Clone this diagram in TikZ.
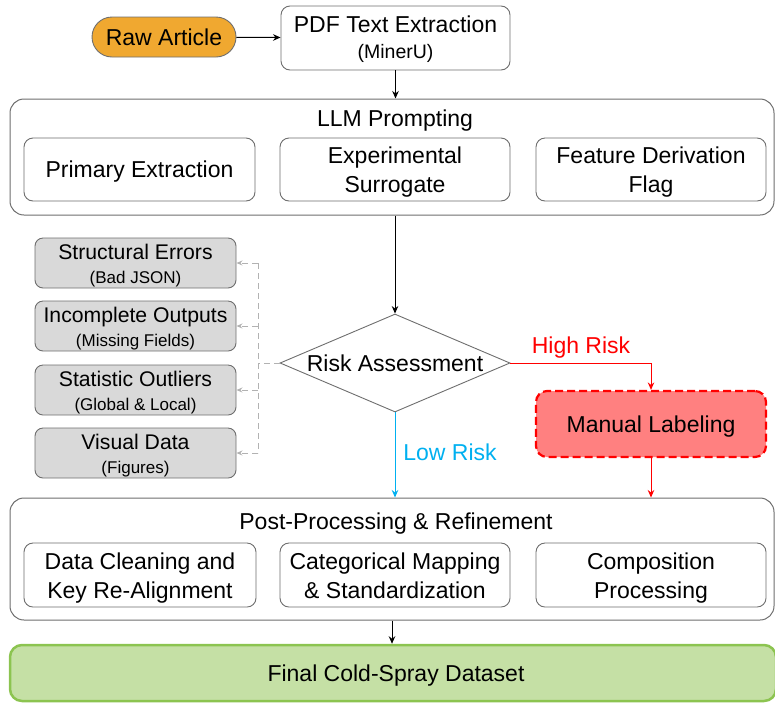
\documentclass[tikz,border=0pt]{standalone}
\usepackage{fontspec}
\setmainfont{Liberation Sans}
\usetikzlibrary{shapes.geometric,arrows.meta}
\definecolor{orangefill}{RGB}{240,168,48}
\definecolor{grayfill}{RGB}{217,217,217}
\definecolor{manualfill}{RGB}{255,128,128}
\definecolor{lowblue}{RGB}{0,176,240}
\definecolor{greenfill}{RGB}{197,224,165}
\definecolor{greendraw}{RGB}{140,196,80}
\definecolor{boxdraw}{RGB}{110,110,110}
\newcommand{\smalltxt}{\fontsize{17}{24}\selectfont}
\begin{document}
\begin{tikzpicture}[x=1pt,y=-1pt,
  every node/.style={inner sep=0pt, align=center},
  bigfont/.style={font=\fontsize{23}{29}\selectfont},
  oneline/.style={text depth=0pt},
  twoline/.style={text height=46.3pt, text depth=0pt},
  box/.style={draw=boxdraw, fill=white, rounded corners=9pt, line width=0.9pt, bigfont},
  outerbox/.style={draw=boxdraw, fill=white, rounded corners=14pt, line width=1pt, minimum width=764pt},
  gbox/.style={draw=boxdraw, fill=grayfill, rounded corners=8pt, line width=0.9pt, minimum width=201pt, minimum height=50pt, font=\fontsize{21.2}{24}\selectfont, text height=44pt},
  arr/.style={-{Stealth[length=7.5pt,width=6.5pt]}, line width=1pt},
  gline/.style={draw=gray!60, line width=1pt, dash pattern=on 6pt off 4pt},
  garr/.style={gline, -{Stealth[length=6pt,width=5pt]}}
]
\useasboundingbox (0,0) rectangle (775,702);

% top
\node[box, oneline, fill=orangefill, rounded corners=20pt, minimum width=144pt, minimum height=40pt] (raw) at (164,37) {Raw Article};
\node[box, text height=45.5pt, minimum width=229pt, minimum height=64pt] (pdf) at (395.5,38) {PDF Text Extraction\\[-3pt]{\fontsize{19.5}{20}\selectfont (MinerU)}};
\draw[arr] (raw) -- (pdf);

% LLM prompting
\node[outerbox, minimum height=116pt] (llm) at (392,157) {};
\node[bigfont, oneline] (llmtitle) at (395,118) {LLM Prompting};
\node[box, oneline, minimum width=231pt, minimum height=63pt] (primary) at (139.5,169.5) {Primary Extraction};
\node[box, twoline, minimum width=230pt, minimum height=63pt] (surrogate) at (395,169.5) {Experimental\\Surrogate};
\node[box, twoline, minimum width=230pt, minimum height=63pt] (feature) at (651,169.5) {Feature Derivation\\Flag};
\draw[arr] (pdf.south) -- (pdf.south |- llm.north);

% risk assessment
\node[draw=boxdraw, fill=white, diamond, shape aspect=2.35, line width=0.9pt, minimum width=230pt, minimum height=98pt, bigfont, oneline] (risk) at (395,363) {Risk Assessment};
\draw[arr] (risk.north |- llm.south) -- (risk.north);

% gray boxes
\node[gbox] (struct) at (135.5,263) {Structural Errors\\{\smalltxt (Bad JSON)}};
\node[gbox] (incomp) at (135.5,326) {Incomplete Outputs\\{\smalltxt (Missing Fields)}};
\node[gbox] (stat) at (135.5,390) {Statistic Outliers\\{\smalltxt (Global \& Local)}};
\node[gbox] (visual) at (135.5,453) {Visual Data\\{\smalltxt (Figures)}};
\coordinate (bus) at (258,363);
\draw[gline] (risk.west) -- (bus);
\draw[gline] (bus |- struct.east) -- (bus |- visual.east);
\draw[garr] (bus |- struct.east) -- (struct.east);
\draw[garr] (bus |- incomp.east) -- (incomp.east);
\draw[garr] (bus |- stat.east) -- (stat.east);
\draw[garr] (bus |- visual.east) -- (visual.east);

% manual labeling
\node[draw=red, fill=manualfill, dash pattern=on 8pt off 4pt, line width=2.2pt, rounded corners=11pt, minimum width=230pt, minimum height=66pt, bigfont, oneline] (manual) at (651,424) {Manual Labeling};
\draw[arr, red] (risk.east) -| (manual.north);
\node[bigfont, oneline, text=red] (highlbl) at (581,345) {High Risk};

% post processing
\node[outerbox, minimum height=122pt] (post) at (392,559) {};
\node[bigfont, oneline] (posttitle) at (396,521) {Post-Processing \& Refinement};
\node[box, twoline, minimum width=232pt, minimum height=64pt] (clean) at (140,575) {Data Cleaning and\\Key Re-Alignment};
\node[box, twoline, minimum width=230pt, minimum height=64pt] (categ) at (395,575) {Categorical Mapping\\\& Standardization};
\node[box, twoline, minimum width=230pt, minimum height=64pt] (compo) at (651,575) {Composition\\Processing};

\draw[arr, lowblue] (risk.south) -- (risk.south |- post.north);
\node[bigfont, oneline, text=lowblue] (lowlbl) at (450,452) {Low Risk};
\draw[arr, red] (manual.south) -- (manual.south |- post.north);

% final
\node[draw=greendraw, fill=greenfill, line width=2.5pt, rounded corners=12pt, minimum width=766pt, minimum height=56pt] (final) at (393,673) {};
\node[bigfont, oneline] (finaltext) at (396,673) {Final Cold-Spray Dataset};
\draw[arr] (post.south) -- (post.south |- final.north);
\end{tikzpicture}
\end{document}
